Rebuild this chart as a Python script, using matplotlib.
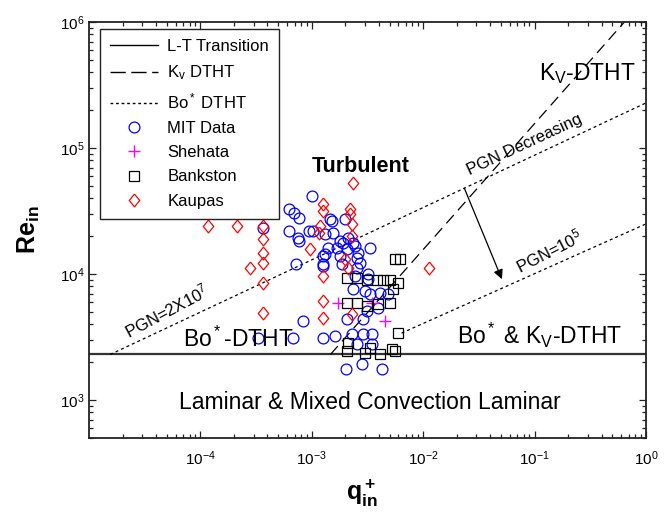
import matplotlib
matplotlib.use('Agg')
import matplotlib.pyplot as plt
from matplotlib.lines import Line2D
from matplotlib.ticker import LogLocator, NullFormatter

plt.rcParams['font.family'] = ['Liberation Sans', 'DejaVu Sans']
plt.rcParams['mathtext.fontset'] = 'custom'
plt.rcParams['mathtext.rm'] = 'Liberation Sans'
plt.rcParams['mathtext.it'] = 'Liberation Sans:italic'
plt.rcParams['mathtext.bf'] = 'Liberation Sans:bold'
plt.rcParams['mathtext.default'] = 'regular'

# ---------------- data ----------------
mit_q = [3.64e-4, 6.2e-4, 6.87e-4, 7.6e-4, 6.2e-4, 7.46e-4, 7.6e-4, 7.16e-4, 1.01e-3, 9.35e-4,
         1.32e-3, 1.47e-3, 1.41e-3, 1.25e-3, 1.32e-3, 8.26e-4, 3.28e-4, 6.73e-4, 1.25e-3, 1.63e-3,
         1.035e-3, 1.53e-3, 2.0e-3, 1.56e-3, 1.8e-3, 1.91e-3, 1.69e-3, 2.08e-3, 2.45e-3, 2.61e-3,
         3.33e-3, 1.27e-3, 1.8e-3, 2.55e-3, 2.71e-3, 1.27e-3, 1.88e-3, 2.55e-3, 2.12e-3, 2.35e-3,
         3.2e-3, 2.35e-3, 3.01e-3, 3.33e-3, 4.09e-3, 4.82e-3, 2.45e-3, 3.2e-3, 2.08e-3, 2.89e-3,
         2.3e-3, 2.89e-3, 3.47e-3, 2.55e-3, 3.47e-3, 2.04e-3, 2.83e-3, 4.26e-3, 3.13e-3, 3.93e-3]
mit_re = [2.31e4, 3.26e4, 3.03e4, 2.77e4, 2.19e4, 1.93e4, 1.82e4, 1.2e4, 4.14e4, 2.19e4,
          2.07e4, 2.72e4, 1.61e4, 1.2e4, 1.44e4, 4.25e3, 3.12e3, 3.12e3, 3.12e3, 3.24e3,
          2.19e4, 2.62e4, 2.72e4, 2.11e4, 1.82e4, 1.76e4, 1.61e4, 1.58e4, 1.66e4, 1.47e4,
          1.61e4, 1.39e4, 1.39e4, 1.34e4, 1.22e4, 1.16e4, 1.2e4, 1.11e4, 1.93e4, 1.76e4,
          1.0e4, 7.6e3, 7.3e3, 6.95e3, 7.1e3, 6.95e3, 9.6e3, 9.1e3, 4.4e3, 4.4e3,
          3.36e3, 3.36e3, 3.36e3, 2.8e3, 2.8e3, 1.78e3, 1.94e3, 1.78e3, 5.1e3, 5.4e3]

shehata_q = [1.73e-3, 3.47e-3, 4.53e-3]
shehata_re = [5.9e3, 5.9e3, 4.25e3]

bankston_q = [5.56e-3, 6.17e-3, 2.08e-3, 2.55e-3, 3.13e-3, 3.85e-3, 4.35e-3, 5.02e-3, 5.92e-3, 5.34e-3,
              2.08e-3, 2.55e-3, 3.13e-3, 3.93e-3, 5.02e-3, 5.92e-3, 2.08e-3, 3.01e-3, 4.09e-3, 5.23e-3,
              5.56e-3, 3.33e-3, 2.12e-3]
bankston_re = [1.31e4, 1.31e4, 9.3e3, 9.3e3, 9.0e3, 9.0e3, 9.0e3, 9.0e3, 8.5e3, 7.6e3,
               5.9e3, 5.9e3, 5.6e3, 5.8e3, 5.9e3, 3.4e3, 2.46e3, 2.37e3, 2.33e3, 2.56e3,
               2.46e3, 2.6e3, 2.85e3]

kaupas_q = [1.18e-4, 2.13e-4, 3.64e-4, 3.64e-4, 3.64e-4, 3.64e-4, 2.79e-4, 3.64e-4, 3.64e-4,
            1.25e-3, 1.25e-3, 1.19e-3, 1.15e-3, 9.7e-4, 1.25e-3, 1.25e-3, 1.25e-3,
            2.35e-3, 2.21e-3, 2.21e-3, 2.3e-3, 2.3e-3, 2.12e-3, 2.3e-3, 2.0e-3, 1.12e-2]
kaupas_re = [2.4e4, 2.4e4, 2.4e4, 1.89e4, 1.47e4, 1.22e4, 1.11e4, 8.5e3, 4.9e3,
             3.57e4, 3.15e4, 2.4e4, 2.1e4, 1.58e4, 9.6e3, 6.12e3, 4.5e3,
             5.24e4, 3.3e4, 3.0e4, 2.5e4, 2.0e4, 1.11e4, 4.8e3, 1.31e4, 1.11e4]

lt_re = 2300
kv_q = [1.47e-3, 0.64]
kv_re = [2300, 1.0e6]
bo_hi_q = [1.55e-5, 1.0]
bo_hi_re = [2300, 2.28e5]
bo_lo_q = [6.4e-3, 1.0]
bo_lo_re = [3.4e3, 2.5e4]
arrow_from = (0.0234, 4.8e4)
arrow_to = (0.0509, 9.1e3)

xticks = [1e-4, 1e-3, 1e-2, 1e-1, 1e0]
yticks = [1e3, 1e4, 1e5, 1e6]

# ---------------- figure ----------------
fig = plt.figure(figsize=(6.67, 5.13), dpi=100)
ax = fig.add_axes([0.1334, 0.1462, 0.8351, 0.8109])
ax.set_xscale('log')
ax.set_yscale('log')
ax.set_xlim(1e-5, 1)
ax.set_ylim(500, 1e6)

dotted = (2.4, 2.4)
longdash = (9, 5)

ax.axhline(lt_re, color='#333333', lw=1.6, zorder=2)
ax.plot(kv_q, kv_re, color='k', lw=0.9, dashes=longdash, zorder=2)
ax.plot(bo_hi_q, bo_hi_re, color='k', lw=0.9, dashes=dotted, zorder=2)
ax.plot(bo_lo_q, bo_lo_re, color='k', lw=0.9, dashes=dotted, zorder=2)
ax.annotate('', xy=arrow_to, xytext=arrow_from,
            arrowprops=dict(arrowstyle='-|>', color='k', lw=0.9,
                            mutation_scale=14, shrinkA=0, shrinkB=0))

diamond = [(0, 1), (0.82, 0), (0, -1), (-0.82, 0), (0, 1)]
ax.plot(mit_q, mit_re, ls='none', marker='o', mfc='none', mec='#0000ff', ms=7.8, mew=0.9, zorder=3)
ax.plot(shehata_q, shehata_re, ls='none', marker='+', color='#ff00ff', ms=8.5, mew=1.0, zorder=3)
ax.plot(bankston_q, bankston_re, ls='none', marker='s', mfc='none', mec='k', ms=7.2, mew=0.9, zorder=3)
ax.plot(kaupas_q, kaupas_re, ls='none', marker=diamond, mfc='none', mec='#ff0000', ms=9.2, mew=0.9, zorder=3)

# region labels
big = 16.5
ax.text(0.297, 3.88e5, r'K$_V$-DTHT', fontsize=big, ha='center', va='center')
ax.text(2.77e-3, 7.14e4, 'Turbulent', fontsize=15.5, fontweight='bold', ha='center', va='center')
ax.text(3.33e-3, 956, 'Laminar & Mixed Convection Laminar', fontsize=big, ha='center', va='center')
ax.text(2.18e-4, 3.06e3, r'Bo$^*$-DTHT', fontsize=big, ha='center', va='center')
ax.text(0.111, 3.24e3, r'Bo$^*$ & K$_V$-DTHT', fontsize=big, ha='center', va='center')
ax.text(4.98e-5, 5.1e3, r'PGN=2X10$^7$', fontsize=12, ha='center', va='center', rotation=28)
ax.text(0.0817, 1.07e5, 'PGN Decreasing', fontsize=12, ha='center', va='center', rotation=25)
ax.text(0.134, 1.52e4, r'PGN=10$^5$', fontsize=12, ha='center', va='center', rotation=27)

# axes styling
ax.set_xticks(xticks)
ax.set_yticks(yticks)
ax.xaxis.set_minor_locator(LogLocator(base=10, subs=range(2, 10), numticks=20))
ax.yaxis.set_minor_locator(LogLocator(base=10, subs=range(2, 10), numticks=20))
ax.xaxis.set_minor_formatter(NullFormatter())
ax.yaxis.set_minor_formatter(NullFormatter())
ax.tick_params(which='both', direction='in', top=True, right=True, width=0.9, color='#222222')
ax.tick_params(which='major', length=5)
ax.tick_params(which='minor', length=3)
ax.tick_params(axis='x', which='major', pad=8, labelsize=11)
ax.tick_params(axis='y', which='major', pad=3, labelsize=11)
for s in ax.spines.values():
    s.set_linewidth(1.3)
    s.set_color('#222222')

fig.text(0.044, 1 - 230 / 513, r'$\mathbf{Re_{in}}$', fontsize=18, rotation=90, ha='center', va='center')
fig.text(362 / 667, 1 - 493 / 513, r'$\mathbf{q^+_{in}}$', fontsize=18, ha='center', va='center')

handles = [
    Line2D([], [], color='k', lw=1.0, label='L-T Transition'),
    Line2D([], [], color='k', lw=1.0, dashes=(11, 4), label=r'K$_v$ DTHT'),
    Line2D([], [], color='k', lw=1.0, dashes=(2, 2), label=r'Bo$^*$ DTHT'),
    Line2D([], [], ls='none', marker='o', mfc='none', mec='#0000ff', ms=7.8, mew=0.9, label='MIT Data'),
    Line2D([], [], ls='none', marker='+', color='#ff00ff', ms=8.5, mew=1.0, label='Shehata'),
    Line2D([], [], ls='none', marker='s', mfc='none', mec='k', ms=7.2, mew=0.9, label='Bankston'),
    Line2D([], [], ls='none', marker=diamond, mfc='none', mec='#ff0000', ms=9.2, mew=0.9, label='Kaupas'),
]
leg = ax.legend(handles=handles, loc='upper left', bbox_to_anchor=(0.0197, 0.983),
                borderaxespad=0, fontsize=12, frameon=True, fancybox=False,
                edgecolor='#222222', framealpha=1, handlelength=2.9, handletextpad=0.55,
                labelspacing=0.56, borderpad=0.6)
leg.get_frame().set_linewidth(1.0)

fig.savefig('out.png', dpi=100)
